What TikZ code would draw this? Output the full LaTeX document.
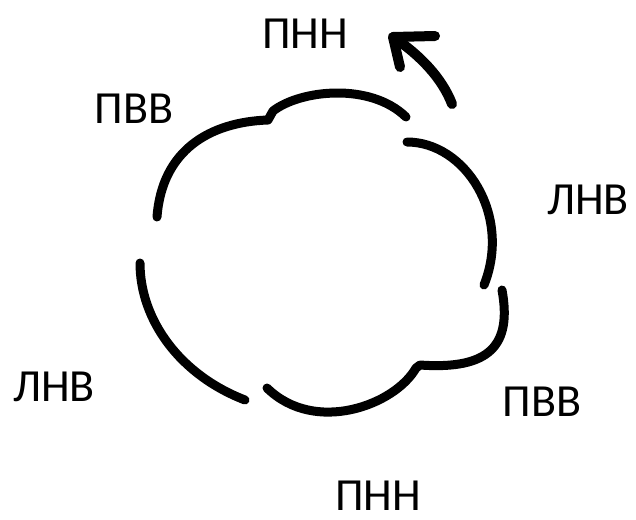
\documentclass[tikz,border=0pt]{standalone}
\usepackage{fontspec}
\setmainfont{Carlito}
\begin{document}
\begin{tikzpicture}[x=1pt,y=-1pt,
  lbl/.style={inner sep=0pt,anchor=center,font=\fontsize{46}{50}\selectfont},
  arcline/.style={line width=9pt,line cap=round,line join=round,black},
  arrline/.style={line width=10pt,line cap=round,line join=round,black}]
\useasboundingbox (0,0) rectangle (636,519);
% labels
\node[lbl] (t1) at (305,34) {ПНН};
\node[lbl] (t2) at (134,109) {ПВВ};
\node[lbl] (t3) at (588,200) {ЛНВ};
\node[lbl] (t4) at (54,387) {ЛНВ};
\node[lbl] (t5) at (542,402) {ПВВ};
\node[lbl] (t6) at (378,496) {ПНН};
% cloud segments
\draw[arcline] (157,217) .. controls (162,150) and (210,122) .. (268,120)
  -- (273,111) .. controls (300,90) and (370,82) .. (406,117);
\draw[arcline] (407,142) .. controls (465,142) and (512,215) .. (484,285);
\draw[arcline] (502,290) .. controls (512,345) and (490,370) .. (420,365)
  -- (416,368) .. controls (395,405) and (315,435) .. (267,388);
\draw[arcline] (140,263) .. controls (140,320) and (180,375) .. (245,400);
% arrow
\coordinate (tail) at (452,104);
\coordinate (tip) at (393,37);
\coordinate (b1) at (435,36);
\coordinate (b2) at (400,67);
\draw[arrline] (tail) .. controls (442,78) and (420,55) .. (tip);
\draw[arrline] (b1) -- (tip) -- (b2);
\end{tikzpicture}
\end{document}
